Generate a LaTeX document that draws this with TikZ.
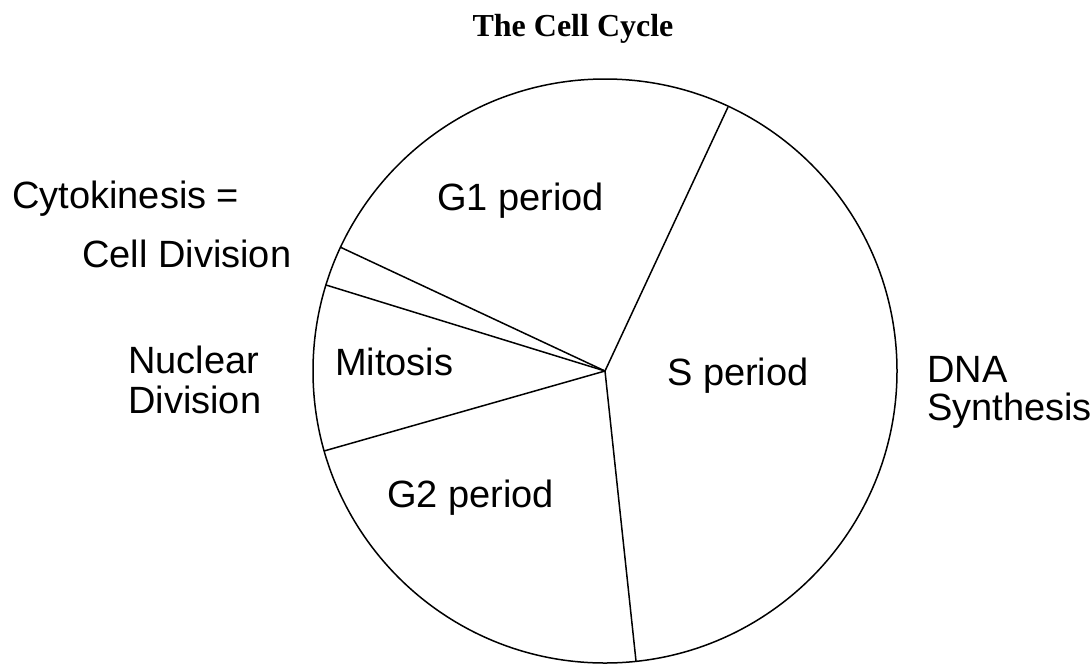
\documentclass[tikz,border=0pt]{standalone}
\usepackage{fontspec}
\setmainfont{Liberation Sans}
\newfontfamily\titlefont{Liberation Serif}
\begin{document}
\begin{tikzpicture}[x=1pt,y=-1pt,
  lbl/.style={anchor=base west,inner sep=0pt,font=\fontsize{38}{40}\selectfont},
  spoke/.style={line width=1.5pt}]
\useasboundingbox (0,0) rectangle (1092,665);
\node[anchor=base,inner sep=0pt,font=\titlefont\bfseries\fontsize{32}{34}\selectfont] (title) at (573,36) {The Cell Cycle};
% wheel and spokes
\coordinate (hub) at (605,371);
\draw[spoke] (hub) circle[radius=292pt];
\coordinate (g1s) at (728,107);
\coordinate (cyto) at (340,247);
\coordinate (mito) at (326,285);
\coordinate (g2m) at (324,451);
\coordinate (sg2) at (636,661);
\draw[spoke] (hub) -- (g1s);
\draw[spoke] (hub) -- (cyto);
\draw[spoke] (hub) -- (mito);
\draw[spoke] (hub) -- (g2m);
\draw[spoke] (hub) -- (sg2);
% phases
\node[lbl] (gone) at (437,210) {G1 period};
\node[lbl] (mitosis) at (335,375) {Mitosis};
\node[lbl] (speriod) at (667,385) {S period};
\node[lbl] (gtwo) at (387,507) {G2 period};
% outer labels
\node[lbl] (cytok) at (12,208) {Cytokinesis =};
\node[lbl] (celldiv) at (82,267) {Cell Division};
\node[lbl] (nuc) at (128,373) {Nuclear};
\node[lbl] (nucdiv) at (128,413) {Division};
\node[lbl] (dna) at (927,382) {DNA};
\node[lbl] (synth) at (927,420) {Synthesis};
\end{tikzpicture}
\end{document}
